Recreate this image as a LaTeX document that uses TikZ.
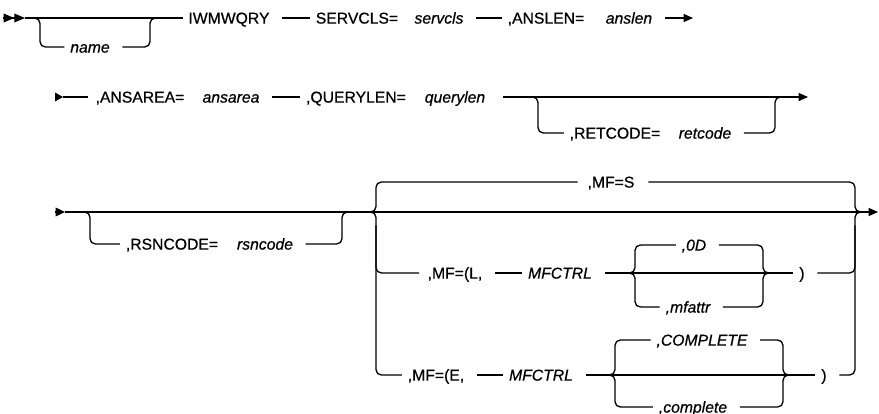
\documentclass[tikz,border=0pt]{standalone}
\usepackage{fontspec}
\setmainfont{Liberation Sans}
\newfontfamily\railfont{Liberation Sans}[FakeBold=0.6]
\usetikzlibrary{arrows.meta}

\begin{document}
\begin{tikzpicture}[x=0.75pt, y=-0.75pt, line width=1pt,
    kw/.style={font=\railfont\fontsize{11.8}{13}\selectfont, inner sep=0pt,
               text height=8.4pt, text depth=0pt},
    var/.style={kw, font=\railfont\fontsize{11.8}{13}\selectfont\itshape},
    rail/.style={rounded corners=4pt},
    seg/.style={shorten <=9pt, shorten >=4pt},
    tip/.style={-{Triangle[length=7pt, width=6pt]}}]
  \useasboundingbox (0,0) rectangle (879,414);

  \foreach \n/\x/\y/\t in
    {iw/229/18/IWMWQRY, sv/357/18/SERVCLS=, al/546/18/{,ANSLEN=},
     aa/140/97/{,ANSAREA=}, ql/356/97/{,QUERYLEN=}, rc/615/133/{,RETCODE=},
     rs/172/244/{,RSNCODE=}, ms/611/182/{,MF=S},
     ml/455/273/{,MF=(L,}, lp/802/273/), me/436/375/{,MF=(E,}, ep/824/375/)}
    \node[kw] (\n) at (\x,\y) {\t};
  \foreach \n/\x/\y/\t in
    {nm/90/47/name, svv/439/18/servcls, alv/629/18/anslen,
     aav/231/97/ansarea, qlv/455/97/querylen, rcv/705/133/retcode,
     rsv/265/244/rsncode, mlc/560/273/MFCTRL, od/694/245/{,0D},
     ma/688/307/{,mfattr}, mec/541/375/MFCTRL,
     cu/702/340/{,COMPLETE}, cl/693/407/{,complete}}
    \node[var] (\n) at (\x,\y) {\t};

  \coordinate (s0) at (3,18);    \coordinate (s1) at (25,18);
  \coordinate (n1) at (40,18);   \coordinate (n2) at (150,18);
  \coordinate (r1e) at (693,18);
  \coordinate (t0) at (55,97);   \coordinate (t1) at (63,97);
  \coordinate (r1) at (538,97);  \coordinate (r2) at (775,97);
  \coordinate (r2e) at (808,97);
  \coordinate (u0) at (55,212);  \coordinate (u1) at (65,212);
  \coordinate (ue) at (878,212);
  \coordinate (k1) at (90,212);  \coordinate (k2) at (342,212);
  \coordinate (c1) at (376,212); \coordinate (c2) at (855,212);
  \coordinate (b1) at (635,273); \coordinate (b2) at (763,273);
  \coordinate (e1) at (615,375); \coordinate (e2) at (783,375);

  \draw[-{Triangle[length=8pt,width=6.5pt] Triangle[length=8pt,width=6.5pt]}] (s0) -- (s1);
  \draw[shorten >=4pt] (s1) -- (iw);
  \draw[rail, shorten >=4pt] ([xshift=-8pt]n1) -| (n1 |- nm) -- (nm);
  \draw[rail, shorten <=9pt] (nm) -| (n2) -- ([xshift=8pt]n2);
  \draw[seg] (iw) -- (sv);
  \draw[seg] (svv) -- (al);
  \draw[tip, shorten <=9pt] (alv) -- (r1e);

  \draw[-{Triangle[length=6pt,width=6.5pt]}] (t0) -- (t1);
  \draw[shorten >=5pt] (t1) -- (aa);
  \draw[seg] (aav) -- (ql);
  \draw[tip, shorten <=13pt] (qlv) -- (r2e);
  \draw[rail, shorten >=4pt] ([xshift=-8pt]r1) -| (r1 |- rc) -- (rc);
  \draw[rail, shorten <=9pt] (rcv) -| (r2) -- ([xshift=8pt]r2);

  \draw[-{Triangle[length=7pt,width=6.5pt]}] (u0) -- (u1);
  \draw[tip] (u1) -- (ue);
  \draw[rail, shorten >=4pt] ([xshift=-8pt]k1) -| (k1 |- rs) -- (rs);
  \draw[rail, shorten <=9pt] (rsv) -| (k2) -- ([xshift=8pt]k2);
  \draw[rail, shorten >=7pt] ([xshift=-8pt]c1) -| (c1 |- ms) -- (ms);
  \draw[rail, shorten <=10pt] (ms) -| (c2) -- ([xshift=8pt]c2);
  \draw[rail, shorten >=4pt] ([xshift=-8pt]c1) -| (c1 |- me) -- (me);
  \draw[rail, shorten >=6pt] ([yshift=-10pt]c1) |- (ml);
  \draw[rail, shorten <=9pt] (ep) -| (c2) -- ([xshift=8pt]c2);
  \draw[rail, shorten <=9pt] (lp) -| ([yshift=-10pt]c2);

  \draw[seg] (ml) -- (mlc);
  \draw[seg] (mlc) -- (lp);
  \draw[rail, shorten >=4pt] ([xshift=-8pt]b1) -| (b1 |- od) -- (od);
  \draw[rail, shorten <=9pt] (od) -| (b2) -- ([xshift=8pt]b2);
  \draw[rail, shorten >=4pt] ([xshift=-8pt]b1) -| (b1 |- ma) -- (ma);
  \draw[rail, shorten <=9pt] (ma) -| (b2) -- ([xshift=8pt]b2);

  \draw[seg] (me) -- (mec);
  \draw[seg] (mec) -- (ep);
  \draw[rail, shorten >=4pt] ([xshift=-8pt]e1) -| (e1 |- cu) -- (cu);
  \draw[rail, shorten <=9pt] (cu) -| (e2) -- ([xshift=8pt]e2);
  \draw[rail, shorten >=4pt] ([xshift=-8pt]e1) -| (e1 |- cl) -- (cl);
  \draw[rail, shorten <=9pt] (cl) -| (e2) -- ([xshift=8pt]e2);
\end{tikzpicture}
\end{document}
